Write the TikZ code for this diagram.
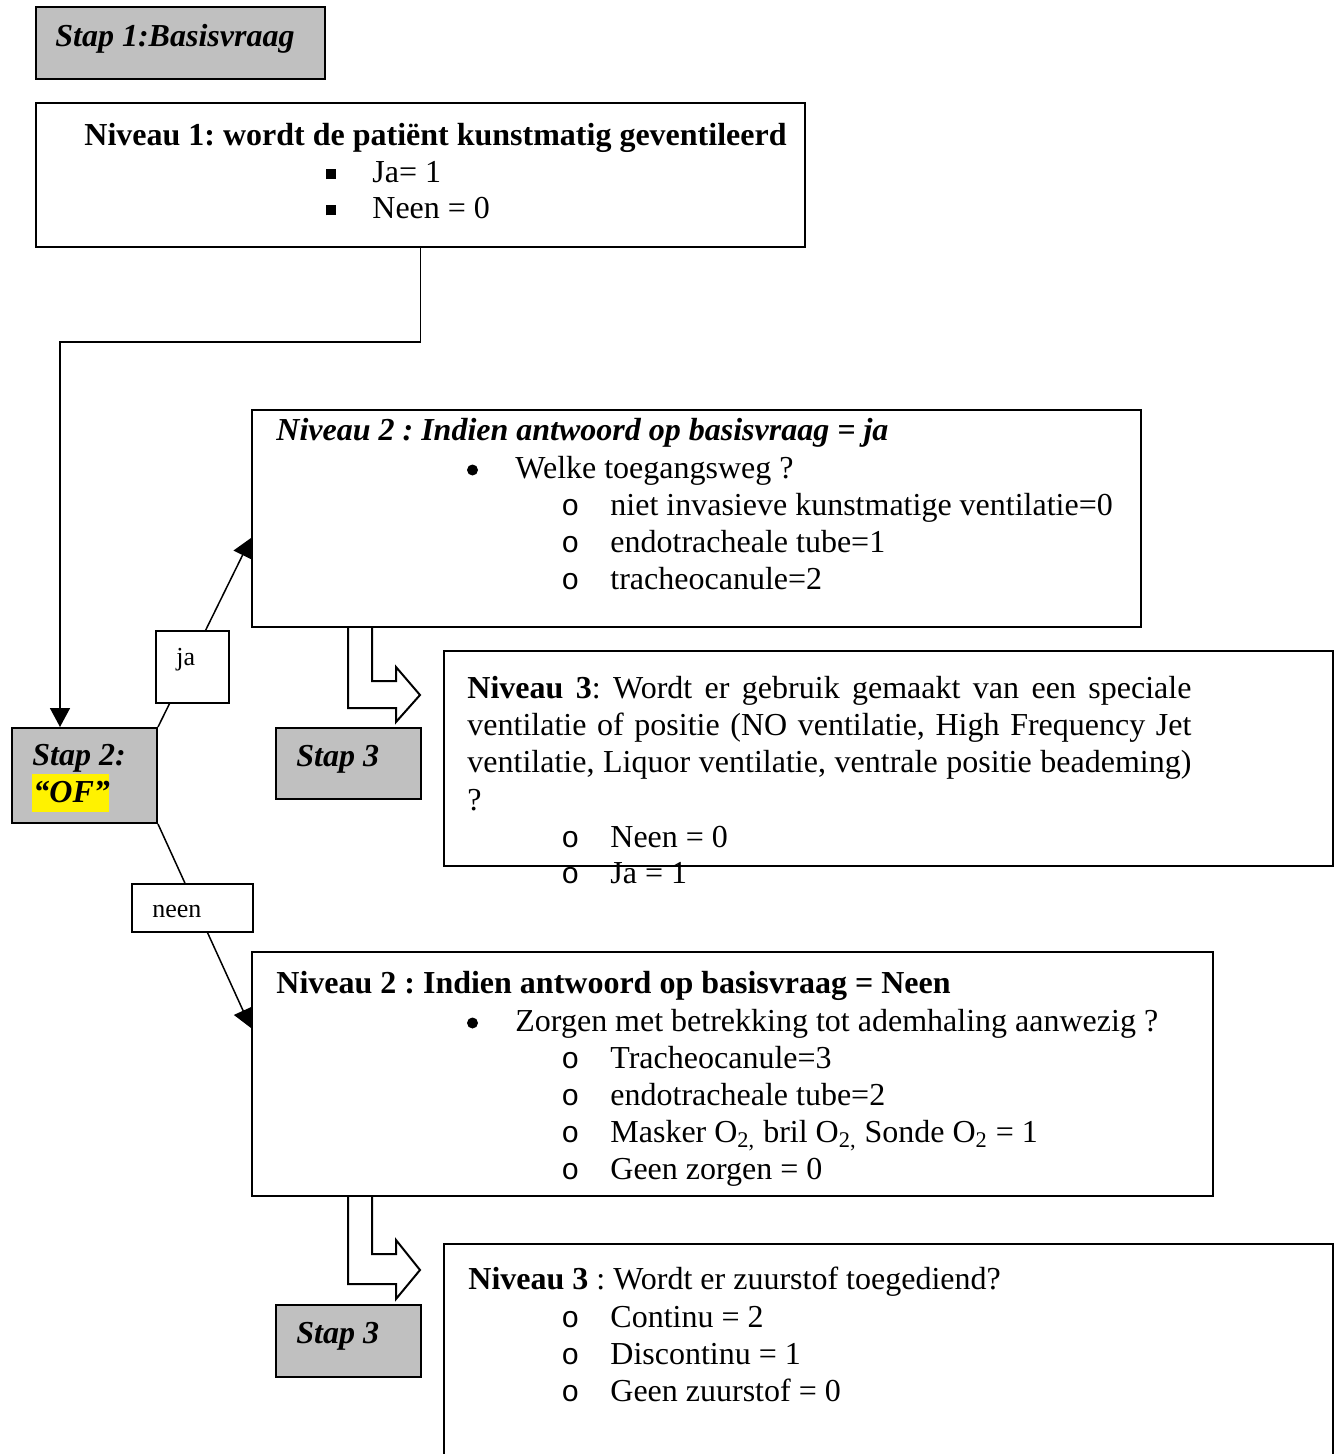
\documentclass[tikz,border=0pt]{standalone}
\usepackage{fontspec}
\setmainfont{Liberation Serif}
\newfontfamily\monofnt{Liberation Mono}
\usetikzlibrary{arrows.meta}
\definecolor{boxgray}{RGB}{192,192,192}
\frenchspacing
\tikzset{
  box/.style={draw, line width=1pt, anchor=north west, inner sep=0pt},
  graybox/.style={box, fill=boxgray},
  txt/.style={anchor=base west, inner sep=0pt, font=\fontsize{16}{18.5}\selectfont},
  lbl/.style={anchor=base west, inner sep=0pt, font=\fontsize{13}{15}\selectfont},
  stap/.style={anchor=base west, inner sep=0pt, font=\fontsize{16}{18.5}\selectfont\bfseries\itshape},
  obul/.style={anchor=base west, inner sep=0pt, font=\fontsize{15}{18}\selectfont\monofnt},
  dotbul/.style={circle, fill, inner sep=0pt, minimum size=5.5pt},
  conn/.style={line width=0.75pt, -{Triangle[length=9.5pt,width=10pt]}},
  blockarrow/.style={draw, line width=1pt, line join=miter},
}
\begin{document}
\frenchspacing
\begin{tikzpicture}[x=0.5pt, y=-0.5pt]
\useasboundingbox (0,0) rectangle (1340,1454);

% block arrows (drawn first, open at top)
\draw[blockarrow] (348,626) -- (348,708) -- (396,708) -- (396,722) -- (420,695)
   -- (396,667) -- (396,681) -- (372,681) -- (372,626);
\draw[blockarrow] (348,1195) -- (348,1284) -- (396,1284) -- (396,1299) -- (420,1270)
   -- (396,1240) -- (396,1254) -- (372,1254) -- (372,1195);

% boxes
\node[graybox, minimum width=144.5pt, minimum height=36pt] (s1) at (35,6) {};
\node[box, minimum width=384.5pt, minimum height=72pt] (n1) at (35,102) {};
\node[graybox, minimum width=72.5pt, minimum height=47.5pt] (s2) at (11,727) {};
\node[box, minimum width=444.5pt, minimum height=108.5pt] (n2a) at (251,409) {};
\node[graybox, minimum width=72.5pt, minimum height=35.5pt] (s3a) at (275,727) {};
\node[box, minimum width=444.5pt, minimum height=107.5pt] (n3a) at (443,650) {};
\node[box, minimum width=480.5pt, minimum height=122pt] (n2b) at (251,951) {};
\node[graybox, minimum width=72.5pt, minimum height=36pt] (s3b) at (275,1304) {};
\begin{scope}
\clip (0,0) rectangle (1340,1454);
\node[box, minimum width=444.5pt, minimum height=120pt] (n3b) at (443,1243) {};
\end{scope}

% connectors
\coordinate (bend) at (60,342);
\draw[conn] (n1.south) |- (bend) -- (bend |- s2.north);
\coordinate (jatip) at (n2a.north west |- 0,538);
\draw[conn] (s2.north east) -- (jatip);
\coordinate (neentip) at (n2b.north west |- 0,1028);
\draw[conn] (s2.south east) -- (neentip);

% connector labels
\node[box, fill=white, minimum width=36.5pt, minimum height=36pt] (ja) at (155,630) {};
\node[lbl] (jat) at (176,665) {ja};
\node[box, fill=white, minimum width=60.5pt, minimum height=24pt] (neen) at (131,883) {};
\node[lbl] (neent) at (152,917) {neen};

% Stap texts
\node[stap] (s1t) at (55,47) {Stap 1:Basisvraag};
\node[stap] (s2t) at (32,765) {Stap 2:};
\node[anchor=north west, fill=yellow, inner sep=0pt, minimum width=38.5pt, minimum height=19pt] (ofbg) at (32,774) {};
\node[stap] (oft) at (33,802) {“OF”};
\node[stap] (s3at) at (296,766) {Stap 3};
\node[stap] (s3bt) at (296,1343) {Stap 3};

% Niveau 1
\node[txt, font=\fontsize{16}{18.5}\selectfont\bfseries] (n1t) at (84,145.7) {Niveau 1: wordt de patiënt kunstmatig geventileerd};
\node[txt] (n1b1) at (326,182.7) {\rule[1.75pt]{5pt}{5pt}};
\node[txt] (n1i1) at (372,182.7) {Ja= 1};
\node[txt] (n1b2) at (326,219) {\rule[1.75pt]{5pt}{5pt}};
\node[txt] (n1i2) at (372,219) {Neen = 0};

% Niveau 2 (ja)
\node[txt, font=\fontsize{16}{18.5}\selectfont\bfseries\itshape] (n2at) at (276,440) {Niveau 2 : Indien antwoord op basisvraag = ja};
\node[dotbul] (n2ab) at (472.5,470) {};
\node[txt] (n2aq) at (515,478) {Welke toegangsweg ?};
\node[obul] (n2ao1) at (561,515) {o};
\node[txt] (n2ai1) at (610,515) {niet invasieve kunstmatige ventilatie=0};
\node[obul] (n2ao2) at (561,552) {o};
\node[txt] (n2ai2) at (610,552) {endotracheale tube=1};
\node[obul] (n2ao3) at (561,589) {o};
\node[txt] (n2ai3) at (610,589) {tracheocanule=2};

% Niveau 3 (ja)
\node[txt] (n3al1) at (467,698) {\makebox[362pt][s]{\textbf{Niveau 3}: Wordt er gebruik gemaakt van een speciale}};
\node[txt] (n3al2) at (467,735) {\makebox[362pt][s]{ventilatie of positie (NO ventilatie, High Frequency Jet}};
\node[txt] (n3al3) at (467,772) {\makebox[362pt][s]{ventilatie, Liquor ventilatie, ventrale positie beademing)}};
\node[txt] (n3al4) at (467,810) {?};
\node[obul] (n3ao1) at (561,847) {o};
\node[txt] (n3ai1) at (610,847) {Neen = 0};
\node[obul] (n3ao2) at (561,883) {o};
\node[txt] (n3ai2) at (610,883) {Ja = 1};

% Niveau 2 (neen)
\node[txt, font=\fontsize{16}{18.5}\selectfont\bfseries] (n2bt) at (276,993) {Niveau 2 : Indien antwoord op basisvraag = Neen};
\node[dotbul] (n2bb) at (472.5,1023) {};
\node[txt] (n2bq) at (515,1031) {Zorgen met betrekking tot ademhaling aanwezig ?};
\node[obul] (n2bo1) at (561,1068) {o};
\node[txt] (n2bi1) at (610,1068) {Tracheocanule=3};
\node[obul] (n2bo2) at (561,1105) {o};
\node[txt] (n2bi2) at (610,1105) {endotracheale tube=2};
\node[obul] (n2bo3) at (561,1142) {o};
\node[txt] (n2bi3) at (610,1142) {Masker O\textsubscript{2,} bril O\textsubscript{2,} Sonde O\textsubscript{2} = 1};
\node[obul] (n2bo4) at (561,1179) {o};
\node[txt] (n2bi4) at (610,1179) {Geen zorgen = 0};

% Niveau 3 (neen)
\node[txt] (n3bt) at (468,1289) {\textbf{Niveau 3} : Wordt er zuurstof toegediend?};
\node[obul] (n3bo1) at (561,1327) {o};
\node[txt] (n3bi1) at (610,1327) {Continu = 2};
\node[obul] (n3bo2) at (561,1364) {o};
\node[txt] (n3bi2) at (610,1364) {Discontinu = 1};
\node[obul] (n3bo3) at (561,1401) {o};
\node[txt] (n3bi3) at (610,1401) {Geen zuurstof = 0};
\end{tikzpicture}
\end{document}
